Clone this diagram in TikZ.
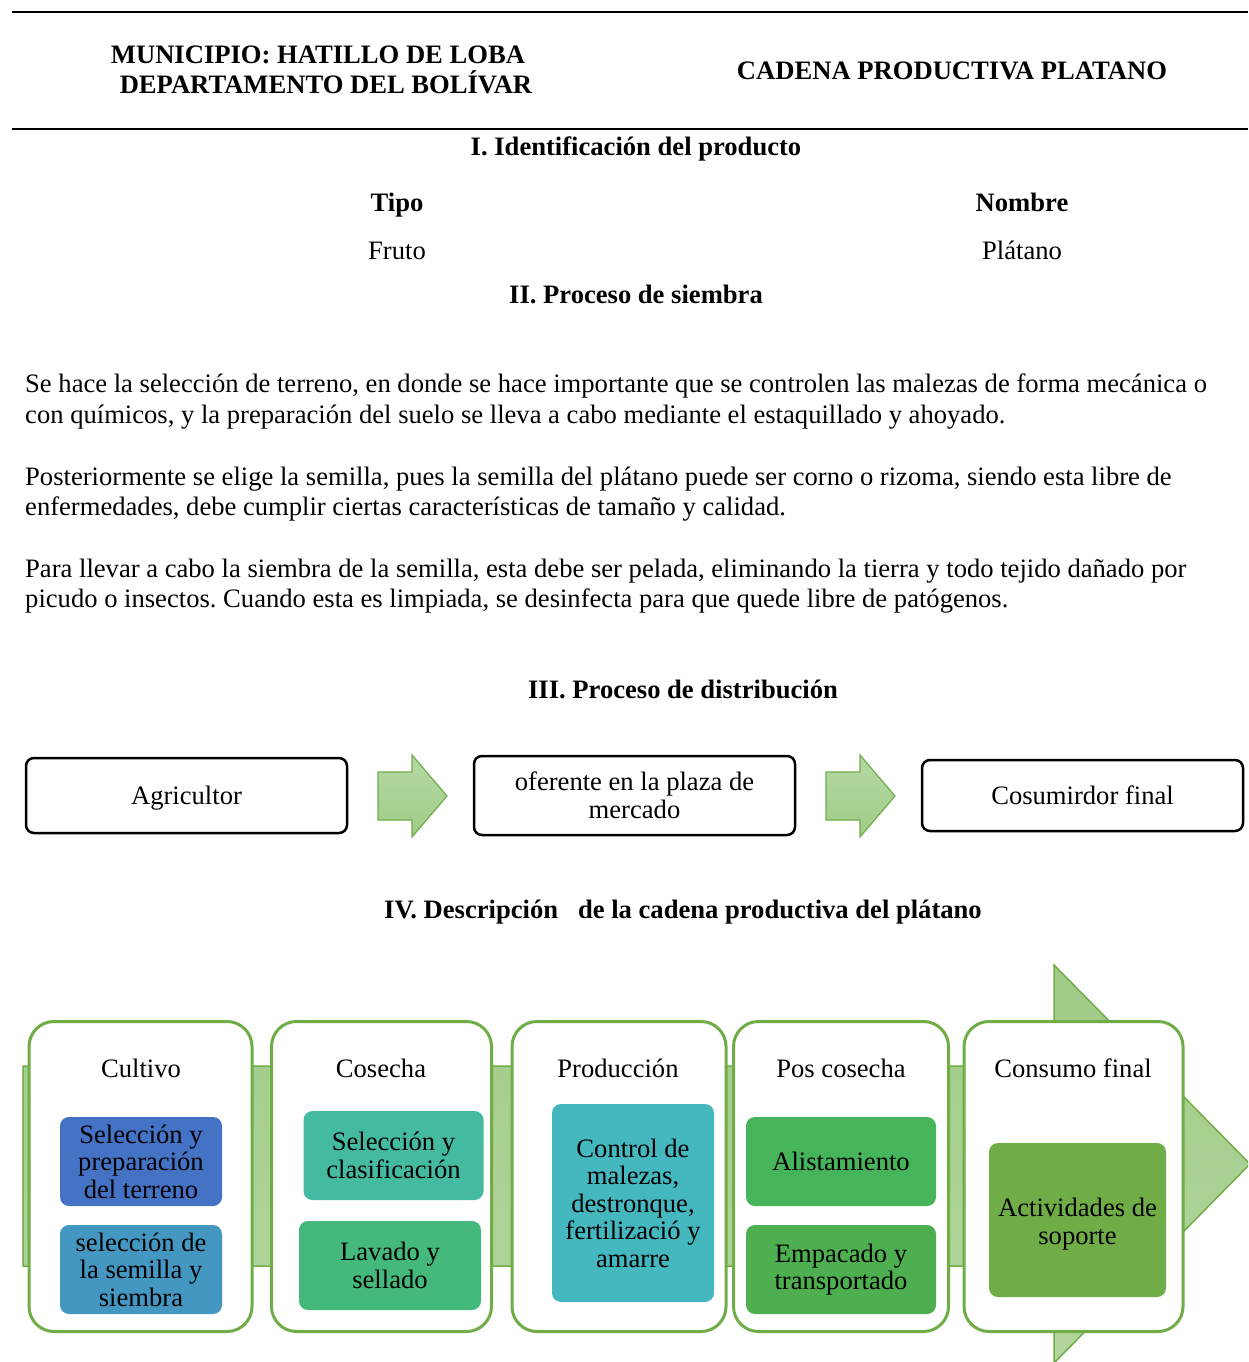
\documentclass[tikz,border=0pt]{standalone}
\usepackage{fontspec}
\setmainfont{Liberation Serif}
\frenchspacing
\definecolor{grn}{HTML}{70AD47}
\definecolor{cA}{HTML}{4472C4}
\definecolor{cB}{HTML}{4397C1}
\definecolor{cC}{HTML}{44BBA0}
\definecolor{cD}{HTML}{45B87C}
\definecolor{cE}{HTML}{44B7BF}
\definecolor{cF}{HTML}{46B45A}
\definecolor{cG}{HTML}{4DAF4F}
\definecolor{cH}{HTML}{70AD47}
\definecolor{arrtop}{HTML}{A0CB87}
\definecolor{arrbot}{HTML}{B3D69E}
\definecolor{smtop}{HTML}{B5D8A5}
\definecolor{smbot}{HTML}{9FCC86}
\newcommand\fsn{\fontsize{26.6}{31}\selectfont}
\newcommand\fsc{\fontsize{26.6}{27.5}\selectfont}
\tikzset{
  hd/.style={inner sep=0, font=\fsn\bfseries, anchor=base},
  tx/.style={inner sep=0, font=\fsn, anchor=base},
  pl/.style={inner sep=0, font=\fsn, anchor=base west},
  dbox/.style={draw=black, line width=2.5, rounded corners=8, fill=white, minimum width=321, align=center, font=\fsc, inner sep=0},
  col/.style={draw=grn, line width=3, rounded corners=25, fill=white, minimum height=310, inner sep=0},
  ibox/.style={rounded corners=9, inner sep=0, align=center, font=\fsc},
  blockarrow/.style={draw=grn, line width=1.2, top color=smtop, bottom color=smbot},
  bigarrow/.style={draw=grn, line width=1.5, top color=arrtop, bottom color=arrbot}
}
\begin{document}
\begin{tikzpicture}[x=1pt,y=-1pt]
\useasboundingbox (0,0) rectangle (1248,1362);
\clip (0,0) rectangle (1248,1362);
\fill[white] (0,0) rectangle (1248,1362);

% header
\draw[line width=2] (12,12) -- (1248,12);
\draw[line width=2] (12,129) -- (1248,129);
\node[hd] (m1) at (318,64) {MUNICIPIO: HATILLO DE LOBA};
\node[hd] (m2) at (326,94) {DEPARTAMENTO DEL BOLÍVAR};
\node[hd] (cad) at (952,80) {CADENA PRODUCTIVA PLATANO};

% I
\node[hd] (h1) at (636,155) {I. Identificación del producto};
\node[hd] (tipo) at (397,211) {Tipo};
\node[hd] (nom) at (1022,211) {Nombre};
\node[tx] (fruto) at (397,259) {Fruto};
\node[tx] (plat) at (1022,259) {Plátano};

% II
\node[hd] (h2) at (636,303) {II. Proceso de siembra};
\node[pl] (p1) at (25,392) {Se hace la selección de terreno, en donde se hace importante que se controlen las malezas de forma mecánica o};
\node[pl] (p2) at (25,423) {con químicos, y la preparación del suelo se lleva a cabo mediante el estaquillado y ahoyado.};
\node[pl] (p3) at (25,485) {Posteriormente se elige la semilla, pues la semilla del plátano puede ser corno o rizoma, siendo esta libre de};
\node[pl] (p4) at (25,515) {enfermedades, debe cumplir ciertas características de tamaño y calidad.};
\node[pl] (p5) at (25,577) {Para llevar a cabo la siembra de la semilla, esta debe ser pelada, eliminando la tierra y todo tejido dañado por};
\node[pl] (p6) at (25,607) {picudo o insectos. Cuando esta es limpiada, se desinfecta para que quede libre de patógenos.};

% III
\node[hd] (h3) at (683,698) {III. Proceso de distribución};
\node[dbox, minimum height=75] (agr) at (186.5,795.5) {};
\node[tx] (agrt) at (186.5,804) {Agricultor};
\node[dbox, minimum height=79] (ofe) at (634.5,795.5) {oferente en la plaza de\\mercado};
\node[dbox, minimum height=71] (con) at (1082.5,795.5) {};
\node[tx] (cont) at (1082.5,804) {Cosumirdor final};
\path[blockarrow] (378,772) -- (412,772) -- (412,755) -- (447,796) -- (412,837) -- (412,820) -- (378,820) -- cycle;
\path[blockarrow] (826,772) -- (860,772) -- (860,755) -- (895,796) -- (860,837) -- (860,820) -- (826,820) -- cycle;

% IV
\node[hd] (h4) at (683,918) {IV. Descripción\ \ \ de la cadena productiva del plátano};

\path[bigarrow] (23,1066) -- (1054,1066) -- (1054,965) -- (1250,1164) -- (1054,1363) -- (1054,1266) -- (23,1266) -- cycle;

\node[col, minimum width=223] (k1) at (140.5,1176.5) {};
\node[col, minimum width=220] (k2) at (381.5,1176.5) {};
\node[col, minimum width=214] (k3) at (619,1176.5) {};
\node[col, minimum width=215] (k4) at (841,1176.5) {};
\node[col, minimum width=219] (k5) at (1073.5,1176.5) {};

\node[tx] (t1) at (141,1077) {Cultivo};
\node[tx] (t2) at (381,1077) {Cosecha};
\node[tx] (t3) at (618,1077) {Producción};
\node[tx] (t4) at (841,1077) {Pos cosecha};
\node[tx] (t5) at (1073,1077) {Consumo final};

\node[ibox, fill=cA, minimum width=162, minimum height=89] (b1) at (141,1161.5) {Selección y\\preparación\\del terreno};
\node[ibox, fill=cB, minimum width=162, minimum height=89] (b2) at (141,1269.5) {selección de\\la semilla y\\siembra};
\node[ibox, fill=cC, minimum width=180, minimum height=89] (b3) at (393.5,1155.5) {Selección y\\clasificación};
\node[ibox, fill=cD, minimum width=182, minimum height=89] (b4) at (390,1265.5) {Lavado y\\sellado};
\node[ibox, fill=cE, minimum width=162, minimum height=198] (b5) at (633,1203) {Control de\\malezas,\\destronque,\\fertilizació y\\amarre};
\node[ibox, fill=cF, minimum width=190, minimum height=89] (b6) at (841,1161.5) {Alistamiento};
\node[ibox, fill=cG, minimum width=190, minimum height=89] (b7) at (841,1269.5) {Empacado y\\transportado};
\node[ibox, fill=cH, minimum width=177, minimum height=154] (b8) at (1077.5,1220) {};
\node[tx, font=\fsc, align=center] (b8t) at (1077.5,1244) {Actividades de\\soporte};
\end{tikzpicture}
\end{document}
